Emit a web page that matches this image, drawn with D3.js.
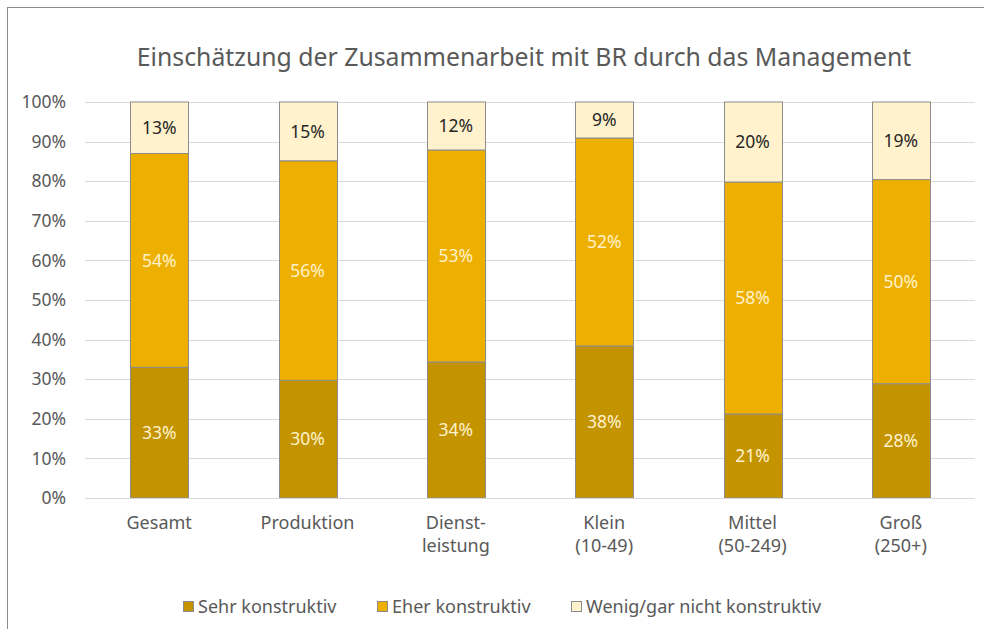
<!DOCTYPE html>
<html>
<head>
<meta charset="utf-8">
<script src="https://cdn.jsdelivr.net/npm/d3@7"></script>
<style>
  body { margin: 0; background: #fff; }
  text { font-family: "Noto Sans", "Liberation Sans", Arial, sans-serif; }
</style>
</head>
<body>
<script>
// chart data
var categories = [["Gesamt"], ["Produktion"], ["Dienst-", "leistung"], ["Klein", "(10-49)"], ["Mittel", "(50-249)"], ["Groß", "(250+)"]];
var seriesNames = ["Sehr konstruktiv", "Eher konstruktiv", "Wenig/gar nicht konstruktiv"];
var sehr = [33, 30, 34, 38, 21, 28];
var eher = [54, 56, 53, 52, 58, 50];
var wenig = [13, 15, 12, 9, 20, 19];
var yTicks = [0, .1, .2, .3, .4, .5, .6, .7, .8, .9, 1];

var colors = ["#C49400", "#EEB000", "#FFF2CC"];
var labelColors = ["#FFF2CC", "#FFF2CC", "#262626"];

var W = 984, H = 629;
var margin = {top: 102, right: 9, bottom: 131, left: 85};
var width = W - margin.left - margin.right,
    height = H - margin.top - margin.bottom;

var rows = categories.map(function(c, i){
	return {key: i, s0: sehr[i], s1: eher[i], s2: wenig[i]};
});

// 100% stacked, like the original
var stack = d3.stack()
	.keys(["s0", "s1", "s2"])
	.offset(d3.stackOffsetExpand);
var layers = stack(rows);

var svg = d3.select("body").append("svg")
	.attr("width", W)
	.attr("height", H);

// outer frame (only left/top visible in the picture)
svg.append("rect")
	.attr("x", 7.5).attr("y", 7.5)
	.attr("width", W + 20).attr("height", H + 20)
	.attr("fill", "none")
	.attr("stroke", "#8c8c8c");

svg.append("text")
	.attr("x", 524).attr("y", 66)
	.attr("text-anchor", "middle")
	.attr("font-size", 24.8)
	.attr("fill", "#595959")
	.text("Einschätzung der Zusammenarbeit mit BR durch das Management");

var g = svg.append("g")
	.attr("transform", "translate(" + margin.left + "," + margin.top + ")");

var x = d3.scaleBand()
	.domain(d3.range(categories.length))
	.range([0, width])
	.paddingInner(0.61)
	.paddingOuter(0.305);
var y = d3.scaleLinear().domain([0, 1]).range([height, 0]);

// gridlines
g.append("g")
	.selectAll("line")
	.data(yTicks)
	.join("line")
	.attr("x1", 0).attr("x2", width)
	.attr("y1", d => Math.round(y(d)) + .5)
	.attr("y2", d => Math.round(y(d)) + .5)
	.attr("stroke", "#d9d9d9");

// y axis labels
var yAxis = g.append("g")
	.attr("transform", "translate(-16,0)")
	.call(d3.axisLeft(y).tickValues(yTicks).tickFormat(d3.format(".0%")).tickSize(0));
yAxis.select(".domain").remove();
yAxis.selectAll("text")
	.attr("font-size", 17.5)
	.attr("fill", "#595959")
	.style("font-family", "Noto Sans, Liberation Sans, Arial, sans-serif");

// bars
var layerG = g.selectAll(".layer")
	.data(layers)
	.join("g")
	.attr("fill", (d, i) => colors[i]);

layerG.selectAll("rect")
	.data(d => d)
	.join("rect")
	.attr("x", d => Math.round(x(d.data.key)) + .5)
	.attr("y", d => y(d[1]))
	.attr("width", Math.round(x.bandwidth()))
	.attr("height", d => y(d[0]) - y(d[1]))
	.attr("stroke", "#8c8c8c")
	.attr("stroke-width", 1);

// data labels
var raw = [sehr, eher, wenig];
layerG.each(function(layer, li){
	d3.select(this).selectAll("text")
		.data(layer)
		.join("text")
		.attr("x", d => x(d.data.key) + x.bandwidth() / 2)
		.attr("y", d => (y(d[0]) + y(d[1])) / 2)
		.attr("dy", "0.35em")
		.attr("text-anchor", "middle")
		.attr("font-size", 17.5)
		.attr("fill", labelColors[li])
		.text((d, i) => raw[li][i] + "%");
});

// x axis baseline
g.append("line")
	.attr("x1", 0).attr("x2", width)
	.attr("y1", height + .5).attr("y2", height + .5)
	.attr("stroke", "#d9d9d9");

// category labels
var xl = g.append("g").selectAll("text")
	.data(categories)
	.join("text")
	.attr("x", (d, i) => x(i) + x.bandwidth() / 2)
	.attr("y", height + 31)
	.attr("text-anchor", "middle")
	.attr("font-size", 18)
	.attr("fill", "#595959");
xl.selectAll("tspan")
	.data(d => d)
	.join("tspan")
	.attr("x", function(){ return d3.select(this.parentNode).attr("x"); })
	.attr("dy", (d, i) => i === 0 ? 0 : 23)
	.text(d => d);

// legend
var legendX = [183, 377, 571];
var legend = svg.append("g").selectAll("g")
	.data(seriesNames)
	.join("g")
	.attr("transform", (d, i) => "translate(" + legendX[i] + ",601)");
legend.append("rect")
	.attr("x", .5).attr("y", .5)
	.attr("width", 10).attr("height", 10)
	.attr("fill", (d, i) => colors[i])
	.attr("stroke", "#8c8c8c");
legend.append("text")
	.attr("x", 15).attr("y", 6)
	.attr("dy", "0.35em")
	.attr("font-size", 18)
	.attr("fill", "#595959")
	.text(d => d);
</script>
</body>
</html>
